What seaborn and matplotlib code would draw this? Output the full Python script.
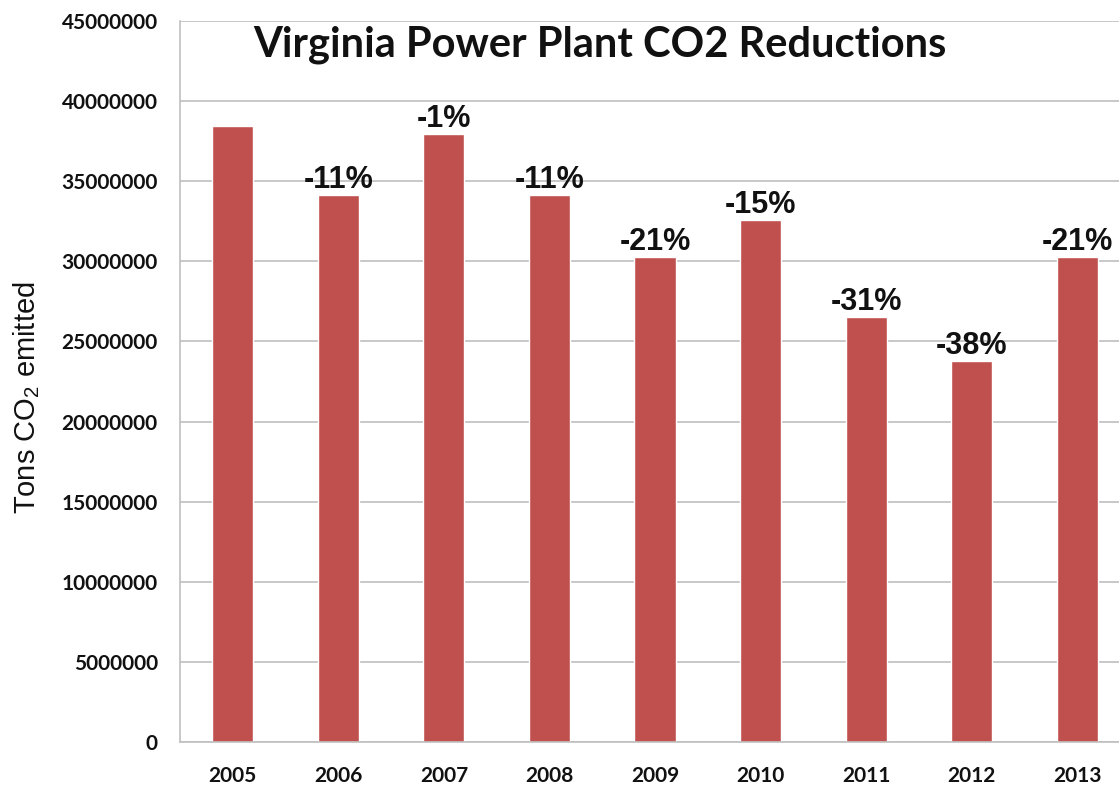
import matplotlib
matplotlib.use("Agg")
import matplotlib.pyplot as plt
import seaborn as sns
import pandas as pd
from matplotlib.ticker import FuncFormatter, MultipleLocator

# data
years = ["2005", "2006", "2007", "2008", "2009", "2010", "2011", "2012", "2013"]
tons = [38450000, 34150000, 37950000, 34150000, 30300000, 32600000, 26500000, 23800000, 30250000]
change = ["", "-11%", "-1%", "-11%", "-21%", "-15%", "-31%", "-38%", "-21%"]

df = pd.DataFrame({"year": years, "tons": tons})

sns.set_style("white")
plt.rcParams["font.family"] = ["Lato", "DejaVu Sans"]
plt.rcParams["mathtext.fontset"] = "custom"
plt.rcParams["mathtext.rm"] = "Liberation Sans"

fig = plt.figure(figsize=(11.19, 7.89), dpi=100)
ax = fig.add_axes([180 / 1119, 47 / 789, 950 / 1119, 721 / 789])

sns.barplot(data=df, x="year", y="tons", color="#C0504D", saturation=1,
            width=0.39, ax=ax)

ax.set_ylim(0, 45000000)
ax.set_xlim(-0.5, 8.5)
ax.yaxis.set_major_locator(MultipleLocator(5000000))
ax.yaxis.set_major_formatter(FuncFormatter(lambda v, p: f"{int(v)}"))
ax.grid(axis="y", color="#BFBFBF", linewidth=1.2)
ax.set_axisbelow(True)

for s in ["top", "right"]:
    ax.spines[s].set_visible(False)
for s in ["left", "bottom"]:
    ax.spines[s].set_color("#BFBFBF")
    ax.spines[s].set_linewidth(1.2)

# category ticks sit between the bars
ax.set_xticks([i + 0.5 for i in range(-1, 9)], minor=True)
ax.tick_params(axis="x", which="minor", length=8, width=1.2, color="#BFBFBF", direction="out")
ax.tick_params(axis="x", which="major", length=0, pad=17)
ax.tick_params(axis="y", length=6, width=1.2, color="#BFBFBF", direction="out", pad=10)

for lab in ax.get_xticklabels() + ax.get_yticklabels():
    lab.set_fontweight("bold")
    lab.set_fontsize(15)
    lab.set_color("#111111")

ax.set_xlabel("")
ax.set_ylabel("")

for i, txt in enumerate(change):
    if txt:
        ax.annotate(txt, (i, tons[i]), xytext=(0, 0), textcoords="offset points",
                    ha="center", va="bottom", fontsize=22, fontweight="bold",
                    family=["Liberation Sans"], color="#111111")

fig.text(600 / 1119, 1 - 45 / 789, "Virginia Power Plant CO2 Reductions",
         ha="center", va="center", fontsize=30, fontweight="bold", color="#111111")

fig.text(27 / 1119, 1 - 398 / 789, "Tons CO$_2$ emitted", rotation=90,
         ha="center", va="center", fontsize=21, family=["Liberation Sans"], color="#111111")

fig.savefig("out.png", dpi=100)
